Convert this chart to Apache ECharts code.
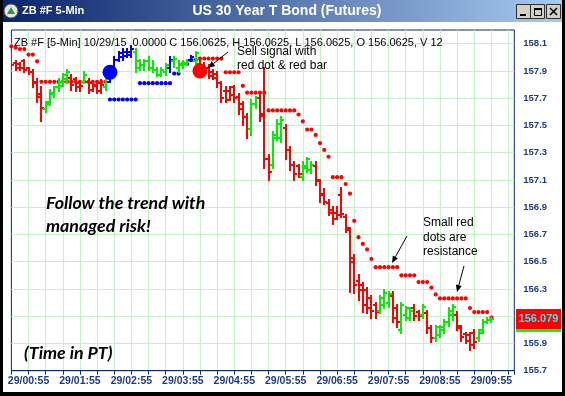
<!DOCTYPE html>
<html><head><meta charset="utf-8">
<script src="https://cdn.jsdelivr.net/npm/echarts@6/dist/echarts.min.js"></script>
<style>html,body{margin:0;padding:0;background:#fff;}#c{width:565px;height:396px;}</style>
</head><body><div id="c"></div>
<script>
// ---- data ----
const startMinute = 35;      // first bar 00:35 (5-min bars)
const barStep = 5;
// [open, high, low, close]
const ohlc = [
[158.02,158.04,157.91,157.94],[157.96,157.97,157.91,157.92],[157.95,157.96,157.91,157.92],[157.97,157.98,157.89,157.91],[157.92,157.92,157.88,157.89],
[157.89,157.91,157.78,157.81],[157.82,157.84,157.67,157.71],[157.73,157.78,157.53,157.63],[157.62,157.67,157.60,157.66],[157.67,157.76,157.65,157.74],
[157.73,157.78,157.71,157.78],[157.78,157.84,157.75,157.82],[157.79,157.88,157.79,157.87],[157.84,157.91,157.81,157.89],[157.85,157.87,157.76,157.80],
[157.84,157.85,157.75,157.78],[157.81,157.82,157.75,157.79],[157.82,157.89,157.81,157.87],[157.82,157.84,157.74,157.76],[157.81,157.82,157.75,157.79],
[157.80,157.81,157.74,157.75],[157.81,157.83,157.74,157.80],[157.78,157.86,157.76,157.84],[157.82,157.92,157.82,157.91],[157.89,158.00,157.89,157.98],
[157.98,158.04,157.97,158.03],[158.00,158.06,157.98,158.04],[158.01,158.06,158.00,158.04],[158.02,158.08,158.00,158.06],[158.04,158.06,157.89,157.92],
[157.97,157.98,157.91,157.94],[157.94,157.98,157.91,157.97],[157.97,158.00,157.91,157.92],[157.92,157.97,157.89,157.91],[157.91,157.92,157.86,157.87],
[157.87,157.92,157.86,157.91],[157.89,157.95,157.87,157.94],[157.92,158.00,157.89,157.98],[157.97,158.00,157.93,157.99],[157.92,157.97,157.89,157.95],
[157.94,157.97,157.92,157.96],[157.95,157.98,157.94,157.97],[157.98,158.01,157.97,158.00],[157.97,158.04,157.95,158.03],[157.95,157.97,157.86,157.88],
[157.94,157.96,157.87,157.89],[157.92,157.94,157.85,157.86],[157.89,157.91,157.84,157.85],[157.88,157.89,157.78,157.81],[157.81,157.82,157.67,157.70],
[157.75,157.78,157.67,157.69],[157.75,157.78,157.69,157.72],[157.78,157.79,157.67,157.70],[157.71,157.73,157.58,157.62],[157.66,157.67,157.50,157.56],
[157.56,157.58,157.41,157.47],[157.47,157.69,157.43,157.66],[157.66,157.71,157.63,157.70],[157.70,157.74,157.53,157.57],[157.58,157.92,157.19,157.25],
[157.25,157.28,157.10,157.16],[157.21,157.45,157.19,157.41],[157.43,157.54,157.39,157.51],[157.41,157.56,157.38,157.54],[157.48,157.50,157.25,157.32],
[157.32,157.34,157.17,157.21],[157.21,157.23,157.10,157.14],[157.20,157.21,157.12,157.14],[157.12,157.23,157.10,157.20],[157.19,157.26,157.16,157.25],
[157.17,157.23,157.15,157.21],[157.20,157.23,157.06,157.10],[157.09,157.10,156.94,156.99],[157.00,157.03,156.92,156.94],[156.93,156.95,156.84,156.86],
[156.88,156.90,156.78,156.81],[156.86,156.90,156.81,156.84],[156.99,157.04,156.83,156.85],[156.83,156.84,156.72,156.75],[156.73,156.75,156.28,156.50],
[156.53,156.55,156.27,156.33],[156.36,156.40,156.22,156.29],[156.33,156.34,156.13,156.18],[156.29,156.31,156.12,156.16],[156.23,156.25,156.09,156.14],
[156.18,156.20,156.09,156.13],[156.14,156.25,156.12,156.23],[156.18,156.29,156.16,156.27],[156.20,156.28,156.17,156.26],[156.25,156.28,156.06,156.09],
[156.16,156.18,156.02,156.06],[156.00,156.20,155.98,156.18],[156.11,156.17,156.07,156.16],[156.09,156.16,156.07,156.14],[156.16,156.18,156.07,156.10],
[156.13,156.14,156.07,156.10],[156.11,156.18,156.09,156.17],[156.12,156.14,155.98,156.01],[156.01,156.03,155.91,155.94],[155.94,156.03,155.92,156.02],
[155.96,156.03,155.95,156.02],[156.00,156.07,155.98,156.06],[156.06,156.16,156.03,156.14],[156.11,156.18,156.07,156.17],[156.11,156.13,156.00,156.03],
[156.01,156.03,155.92,155.95],[155.97,155.98,155.90,155.92],[155.96,155.98,155.85,155.89],[155.98,156.00,155.87,155.91],[155.94,156.00,155.92,155.98],
[156.00,156.07,155.98,156.06],[156.06,156.09,156.05,156.07],[156.07,156.09,156.06,156.08]
];
// bar state: r = down trend, g = up, b = strong up
const barStates = ("rrrrrrrr"+"gggggg"+"rrr"+"g"+"rrrr"+"g"+"bbbbbb"+"gggggggg"+"b"+"gggg"+"b"+"g"+
  "rrrrrrrrrrrr"+"gg"+"rrr"+"ggg"+"rrrr"+"ggg"+"rrrrrrrrrrrrrrr"+"ggg"+"rr"+"ggg"+"rr"+"g"+"rr"+"ggggg"+"rrrrr"+"gggg").split('');
// resistance dots [barIndex, price]
const redDots = [
[0,158.08],[1,158.07],[2,158.06],[3,158.06],[4,158.02],[5,158.02],[6,157.97],
[7,157.82],[8,157.82],[9,157.82],[10,157.82],[11,157.82],[12,157.82],[13,157.82],[14,157.82],[15,157.82],[16,157.82],[17,157.82],[18,157.82],[19,157.82],[20,157.82],[21,157.82],[22,157.82],
[44,157.99],[45,157.99],[46,157.99],[47,157.99],[48,157.99],[49,157.99],
[50,157.89],[51,157.89],[52,157.89],[53,157.89],[54,157.79],
[55,157.74],[56,157.74],[57,157.74],[58,157.74],[59,157.74],
[60,157.61],[61,157.61],[62,157.61],[63,157.61],[64,157.61],[65,157.61],[66,157.61],
[67,157.58],[68,157.53],[69,157.47],[70,157.47],[71,157.43],[72,157.37],[73,157.32],[74,157.27],
[75,157.12],[76,157.12],[77,157.12],[78,157.07],[79,157.00],[80,156.80],[81,156.68],[82,156.63],[83,156.59],[84,156.52],
[85,156.46],[86,156.46],[87,156.46],[88,156.46],[89,156.46],[90,156.46],
[91,156.40],[92,156.40],[93,156.40],[94,156.40],[95,156.35],[96,156.35],[97,156.35],[98,156.31],[99,156.26],
[100,156.23],[101,156.23],[102,156.23],[103,156.23],[104,156.23],[105,156.23],[106,156.23],
[107,156.16],[108,156.13],[109,156.13],[110,156.13],[111,156.13],[112,156.09]
];
// support dots [barIndex, price]
const blueDots = [
[23,157.69],[24,157.69],[25,157.69],[26,157.69],[27,157.69],[28,157.69],[29,157.69],
[30,157.81],[31,157.81],[32,157.81],[33,157.81],[34,157.81],[35,157.81],[36,157.81],[37,157.81],
[38,157.88],[39,157.88],[40,157.95],[41,157.95],[42,157.98],[43,157.98]
];
const buySignal = [[23,157.89]];
const sellSignal = [[44,157.90]];
const lastPrice = 156.079;
const yTickLabels = ['155.7','155.9','156.1','156.3','156.5','156.7','156.9','157.1','157.3','157.5','157.7','157.9','158.1'];

// ---- chart ----
const palette = {r:'#ff0000', g:'#00ee00', b:'#0000ff'};
const toMin = i => startMinute + barStep * i;
const pad = n => (n < 10 ? '0' : '') + n;
const chart = echarts.init(document.getElementById('c'), null, {renderer:'canvas'});
const navy = '#1c3a86';
const gridGreen = '#c4f2c4';
const font = 'Liberation Sans, Arial, sans-serif';

function renderBar(params, api) {
  const t = api.value(0);
  const o = api.coord([t, api.value(1)]);
  const h = api.coord([t, api.value(2)]);
  const l = api.coord([t, api.value(3)]);
  const c = api.coord([t, api.value(4)]);
  const color = palette[barStates[params.dataIndex]];
  const x = Math.round(o[0]);
  const style = {stroke: color, lineWidth: 2, lineCap: 'butt'};
  const oy = Math.round(o[1]), cy = Math.round(c[1]);
  return {type:'group', children:[
    {type:'line', shape:{x1:x, y1:Math.round(h[1]) - 1, x2:x, y2:Math.round(l[1]) + 1}, style},
    {type:'line', shape:{x1:x - 3, y1:oy, x2:x, y2:oy}, style},
    {type:'line', shape:{x1:x, y1:cy, x2:x + 3, y2:cy}, style}
  ]};
}

function arrow(x1, y1, x2, y2) {
  const a = Math.atan2(y2 - y1, x2 - x1), L = 7, W = 3;
  const bx = x2 - L * Math.cos(a), by = y2 - L * Math.sin(a);
  const px = -Math.sin(a) * W, py = Math.cos(a) * W;
  return [
    {type:'line', z:100, shape:{x1, y1, x2:bx, y2:by}, style:{stroke:'#000', lineWidth:1}},
    {type:'polygon', z:100, shape:{points:[[x2, y2],[bx + px, by + py],[bx - px, by - py]]}, style:{fill:'#000'}}
  ];
}
function txt(x, y, s, opt, z) {
  return {type:'text', z: z || 100, x, y, style:Object.assign({text:s, fill:'#000', font:'12px ' + font, textVerticalAlign:'middle'}, opt || {})};
}

const option = {
  animation: false,
  backgroundColor: '#ffffff',
  grid: {left: 11.4, right: 50.7, top: 30, bottom: 25.3, show: true, borderColor: '#0b2b6b', borderWidth: 1, backgroundColor: '#fff'},
  xAxis: {
    type: 'value', min: startMinute, max: 621.7, interval: 20,
    axisLine: {show: true, lineStyle: {color: '#0b2b6b', width: 1}},
    axisTick: {show: true, length: 4, lineStyle: {color: '#0b2b6b'}},
    axisLabel: {
      margin: 5, color: navy, fontWeight: 'bold', fontSize: 10.5, fontFamily: font,
      formatter: v => (Math.abs((v - 55) % 60) < 1e-6 ? '29/' + pad(Math.floor(v / 60)) + ':55' : '')
    },
    splitLine: {show: true, showMinLine: false, showMaxLine: false, lineStyle: {color: gridGreen, width: 1}}
  },
  yAxis: {
    type: 'value', position: 'right', min: 155.7, max: 158.2, interval: 0.2,
    axisLine: {show: false}, axisTick: {show: false},
    axisLabel: {
      margin: 9, color: navy, fontWeight: 'bold', fontSize: 9.5, fontFamily: font,
      formatter: v => { const s = v.toFixed(1); return yTickLabels.indexOf(s) >= 0 && Math.abs((v - 155.7) / 0.2 - Math.round((v - 155.7) / 0.2)) < 1e-6 ? s : ''; }
    },
    splitLine: {show: true, showMinLine: false, showMaxLine: false, lineStyle: {color: gridGreen, width: 1}}
  },
  series: [
    {type:'scatter', symbol:'circle', symbolSize:4.2, z:3, itemStyle:{color:'#ff0000', opacity:1},
     data: redDots.map(d => [toMin(d[0]), d[1]])},
    {type:'scatter', symbol:'circle', symbolSize:4.2, z:3, itemStyle:{color:'#0000ff', opacity:1},
     data: blueDots.map(d => [toMin(d[0]), d[1]])},
    {type:'custom', z:4, renderItem: renderBar, clip: true,
     encode: {x: 0, y: [1, 2, 3, 4]},
     data: ohlc.map((d, i) => [toMin(i), d[0], d[1], d[2], d[3]])},
    {type:'scatter', symbol:'circle', symbolSize:15, z:5, itemStyle:{color:'#0000ff', opacity:1},
     data: buySignal.map(d => [toMin(d[0]), d[1]])},
    {type:'scatter', symbol:'circle', symbolSize:15, z:5, itemStyle:{color:'#ff0000', opacity:1},
     data: sellSignal.map(d => [toMin(d[0]), d[1]])}
  ]
};
chart.setOption(option);

const py = chart.convertToPixel({yAxisIndex: 0}, lastPrice);
const noteFont = 'italic bold 17.8px Lato, ' + font;
const graphics = [
  // window frame
  {type:'rect', z:100, shape:{x:0, y:0, width:3, height:396}, style:{fill:'#000'}},
  {type:'rect', z:100, shape:{x:562, y:0, width:3, height:396}, style:{fill:'#000'}},
  {type:'rect', z:100, shape:{x:0, y:392, width:565, height:4}, style:{fill:'#000'}},
  {type:'rect', z:100, shape:{x:3, y:0, width:559, height:22},
   style:{fill:{type:'linear', x:0, y:0, x2:1, y2:0, colorStops:[{offset:0, color:'#0a246a'},{offset:1, color:'#a6caf0'}]}}},
  {type:'circle', z:101, shape:{cx:11, cy:11, r:7}, style:{fill:'#e4e4e4', stroke:'#555', lineWidth:1}},
  {type:'polygon', z:102, shape:{points:[[7,14],[11,7],[15,14]]}, style:{fill:'#2a9a3a'}},
  txt(22, 11, 'ZB #F 5-Min', {fill:'#fff', font:'bold 11px ' + font}, 102),
  txt(287, 11, 'US 30 Year T Bond (Futures)', {fill:'#fff', font:'bold 14px ' + font, textAlign:'center'}, 102),
  {type:'rect', z:101, shape:{x:516.5, y:4.5, width:14, height:14}, style:{fill:'#d4d0c8', stroke:'#303030', lineWidth:1}},
  {type:'rect', z:101, shape:{x:530.5, y:4.5, width:14, height:14}, style:{fill:'#d4d0c8', stroke:'#303030', lineWidth:1}},
  {type:'rect', z:101, shape:{x:546.5, y:4.5, width:14, height:14}, style:{fill:'#d4d0c8', stroke:'#303030', lineWidth:1}},
  {type:'rect', z:102, shape:{x:520, y:14, width:6, height:2}, style:{fill:'#000'}},
  {type:'rect', z:102, shape:{x:534.5, y:8.5, width:7, height:7}, style:{fill:'none', stroke:'#000', lineWidth:1}},
  {type:'rect', z:102, shape:{x:534, y:8, width:8, height:2}, style:{fill:'#000'}},
  {type:'line', z:102, shape:{x1:550, y1:8, x2:557, y2:15}, style:{stroke:'#000', lineWidth:1.6}},
  {type:'line', z:102, shape:{x1:557, y1:8, x2:550, y2:15}, style:{stroke:'#000', lineWidth:1.6}},
  // header & notes
  txt(14, 43, 'ZB #F [5-Min] 10/29/15  0.0000 C 156.0625, H 156.0625, L 156.0625, O 156.0625, V 12', {font:'11px ' + font}),
  txt(237, 52, 'Sell signal with'),
  txt(237, 66, 'red dot & red bar'),
  ...arrow(228, 52, 208, 68),
  txt(423, 223, 'Small red'),
  txt(423, 238, 'dots are'),
  txt(423, 252, 'resistance'),
  ...arrow(407, 236, 392, 263),
  ...arrow(464, 266, 457, 292),
  txt(46, 203, 'Follow the trend with', {font: noteFont}),
  txt(46, 226, 'managed risk!', {font: noteFont}),
  txt(24, 353, '(Time in PT)', {font: noteFont}),
  // last price tag
  {type:'rect', z:110, shape:{x:516, y:Math.round(py) - 10, width:45, height:20}, style:{fill:'#ff0000'}},
  {type:'rect', z:110, shape:{x:516, y:Math.round(py) + 10, width:45, height:3}, style:{fill:'#00ff00'}},
  txt(538.5, Math.round(py), lastPrice.toFixed(3), {fill:'#33e6ff', font:'bold 11px ' + font, textAlign:'center'}, 120)
];
chart.setOption({graphic: {elements: graphics}});
</script></body></html>
